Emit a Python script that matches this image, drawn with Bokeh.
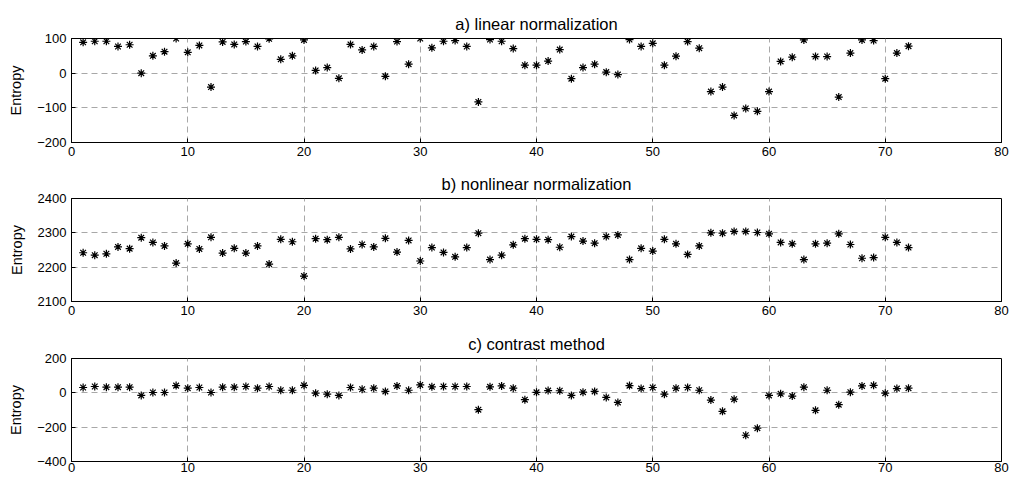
from bokeh.plotting import figure
from bokeh.layouts import column
from bokeh.models import Range1d, FixedTicker
from bokeh.embed import file_html
from bokeh.resources import INLINE

x = list(range(1, 73))

linear_norm = [89, 92, 92, 77, 82, 0, 50, 62, 100, 60, 80, -40, 90, 83, 91, 77, 99, 40, 50, 96,
               8, 16, -15, 83, 67, 77, -9, 91, 26, 100, 73, 92, 94, 77, -83, 97, 92, 71, 23, 23,
               35, 68, -16, 16, 26, 3, -4, 97, 77, 86, 23, 49, 91, 72, -53, -40, -122, -102, -110, -53,
               34, 46, 96, 48, 48, -69, 58, 96, 94, -16, 58, 78]

nonlinear_norm = [2242, 2235, 2239, 2259, 2254, 2286, 2272, 2262, 2212, 2268, 2253, 2287, 2241, 2255, 2241,
                  2262, 2209, 2281, 2274, 2174, 2283, 2280, 2287, 2253, 2266, 2259, 2284, 2244, 2278, 2218,
                  2257, 2243, 2230, 2257, 2299, 2222, 2235, 2265, 2283, 2281, 2280, 2258, 2289, 2276, 2270,
                  2289, 2294, 2222, 2255, 2247, 2281, 2268, 2237, 2262, 2300, 2299, 2304, 2304, 2301, 2297,
                  2272, 2268, 2222, 2268, 2270, 2297, 2266, 2226, 2228, 2287, 2272, 2257]

contrast = [31, 37, 33, 33, 33, -15, 2, 2, 42, 27, 31, 2, 33, 33, 37, 27, 37, 15, 15, 44,
            -2, -8, -15, 31, 21, 27, 8, 40, 15, 46, 35, 37, 37, 37, -98, 35, 40, 27, -40, 3,
            13, 12, -15, 4, 8, -27, -56, 42, 25, 31, -8, 27, 31, 15, -42, -108, -37, -247, -206, -15,
            -6, -19, 33, -102, 15, -69, 4, 40, 44, -2, 25, 27]

titles = ["a) linear normalization", "b) nonlinear normalization", "c) contrast method"]
x_ticks = [0, 10, 20, 30, 40, 50, 60, 70, 80]
y_ticks_a = [-200, -100, 0, 100]
y_ticks_b = [2100, 2200, 2300, 2400]
y_ticks_c = [-400, -200, 0, 200]

FONT = "Liberation Sans"


def make_panel(title, ys, yticks, height, top, bottom, xstand):
    p = figure(width=1009, height=height, output_backend="svg", toolbar_location=None,
               x_range=Range1d(0, 80), y_range=Range1d(yticks[0], yticks[-1]),
               min_border_left=71, min_border_right=8, min_border_top=top,
               min_border_bottom=bottom, title=title)
    p.title.align = "center"
    p.title.text_font = FONT
    p.title.text_font_size = "16.5px"
    p.title.text_font_style = "normal"
    p.title.text_color = "black"
    p.title.standoff = 11
    p.outline_line_color = "black"
    p.outline_line_width = 1
    p.background_fill_color = "white"
    p.border_fill_color = "white"
    p.xaxis.ticker = FixedTicker(ticks=x_ticks)
    p.yaxis.ticker = FixedTicker(ticks=yticks)
    for ax in (p.xaxis[0], p.yaxis[0]):
        ax.major_tick_in = 4
        ax.major_tick_out = 0
        ax.minor_tick_line_color = None
        ax.axis_line_color = "black"
        ax.major_tick_line_color = "black"
        ax.major_label_text_font = FONT
        ax.major_label_text_font_size = "13px"
        ax.major_label_text_color = "black"
    p.xaxis.major_label_standoff = xstand
    p.yaxis.major_label_standoff = 5
    p.yaxis.axis_label = "Entropy"
    p.yaxis.axis_label_text_font = FONT
    p.yaxis.axis_label_text_font_size = "14.5px"
    p.yaxis.axis_label_text_font_style = "normal"
    p.yaxis.axis_label_text_color = "black"
    p.yaxis.axis_label_standoff = 10
    for g in (p.xgrid[0], p.ygrid[0]):
        g.grid_line_color = "#a8a8a8"
        g.grid_line_dash = "6 4"
        g.grid_line_width = 1
    p.scatter(x, ys, marker="asterisk", size=8, line_color="black", line_width=1.2)
    return p


pa = make_panel(titles[0], linear_norm, y_ticks_a, 167, 38, 25, 4)
pb = make_panel(titles[1], nonlinear_norm, y_ticks_b, 160, 30, 26, 4)
pc = make_panel(titles[2], contrast, y_ticks_c, 150, 30, 16, 1)

layout = column(pa, pb, pc, spacing=0)
open("out.html", "w").write(file_html(layout, INLINE))
